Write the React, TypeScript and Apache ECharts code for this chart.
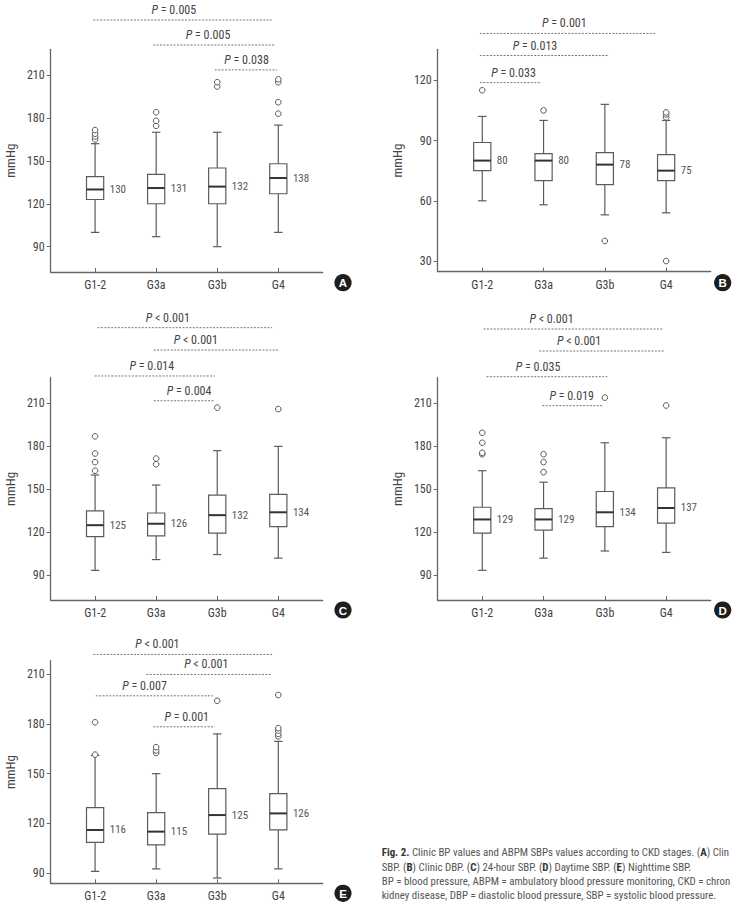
import React, { useEffect, useRef } from 'react';
import * as echarts from 'echarts';

const categories = ['G1-2', 'G3a', 'G3b', 'G4'];
const sbpTicks = [90, 120, 150, 180, 210];
const dbpTicks = [30, 60, 90, 120];

// each box: [lower whisker, Q1, median, Q3, upper whisker]
const clinicSbpBoxes = [
  [100, 123, 130, 139, 162],
  [97, 120, 131, 140.5, 170],
  [90, 120, 132, 145, 170],
  [100, 127, 138, 148, 175],
];
const clinicSbpOutliers = [[165, 167, 169, 171.5], [174.5, 178, 184], [202, 205], [183, 191, 205, 207]];
// comparisons: [from (category units), to, level (mmHg), label position, operator, p]
const clinicSbpTests: [number, number, number, number, string, string][] = [
  [0.97, 3.89, 248.5, 2.29, '=', '0.005'],
  [1.95, 3.94, 231, 2.85, '=', '0.005'],
  [2.96, 3.98, 213.6, 3.48, '=', '0.038'],
];

const clinicDbpBoxes = [
  [60, 75, 80, 89, 102],
  [58, 70, 80, 83.5, 100],
  [53, 68, 78, 84, 108],
  [54, 70, 75, 83, 100],
];
const clinicDbpOutliers = [[115], [105], [40], [30, 101.5, 103, 104]];
const clinicDbpTests: [number, number, number, number, string, string][] = [
  [0.96, 3.82, 143.3, 2.34, '=', '0.001'],
  [0.96, 3.07, 132.3, 1.86, '=', '0.013'],
  [0.96, 1.96, 118.8, 1.51, '=', '0.033'],
];

const sbp24Boxes = [
  [93.5, 117, 125, 135, 160],
  [101, 117.5, 126, 133.5, 153],
  [104.5, 119.5, 132, 146, 177],
  [102, 124, 134, 146.5, 180],
];
const sbp24Outliers = [[163, 169, 175, 187], [167.5, 171.5], [207], [206]];
const sbp24Tests: [number, number, number, number, string, string][] = [
  [1.04, 3.9, 262.8, 2.19, '<', '0.001'],
  [1.96, 4.0, 247.2, 2.65, '<', '0.001'],
  [0.99, 2.96, 229.1, 1.93, '=', '0.014'],
  [1.96, 2.96, 211.8, 2.54, '=', '0.004'],
];

const daySbpBoxes = [
  [93.5, 119.5, 129, 137.5, 163],
  [102, 121.5, 129, 136.5, 155],
  [107, 124, 134, 148.5, 182.5],
  [106, 126.5, 137, 151, 186],
];
const daySbpOutliers = [[174.5, 175.5, 182.5, 189.5], [162, 169, 174.5], [214], [208.5]];
const daySbpTests: [number, number, number, number, string, string][] = [
  [1.02, 3.94, 261.9, 2.13, '<', '0.001'],
  [1.93, 3.97, 246.5, 2.58, '<', '0.001'],
  [1.07, 3.04, 228.6, 1.91, '=', '0.035'],
  [1.98, 2.98, 208.4, 2.46, '=', '0.019'],
];

const nightSbpBoxes = [
  [91, 108.5, 116, 129.5, 161],
  [92.5, 107, 115, 126.5, 150],
  [87, 113.5, 125, 141, 174],
  [92.5, 116, 126, 138, 169.5],
];
const nightSbpOutliers = [[161.5, 181], [162.5, 164, 166], [194], [172.5, 174, 176, 177.5, 197.5]];
const nightSbpTests: [number, number, number, number, string, string][] = [
  [0.97, 3.9, 222, 2.02, '<', '0.001'],
  [1.84, 3.9, 209.9, 2.82, '<', '0.001'],
  [1.01, 2.93, 197, 1.81, '=', '0.007'],
  [1.95, 2.96, 178.3, 2.5, '=', '0.001'],
];

const FONT = '"Liberation Sans Narrow", "Arial Narrow", "Roboto Condensed", "Liberation Sans", sans-serif';
const AXIS = '#666';
const TEXT = '#444';

const panels = [
  { tag: 'A', boxes: clinicSbpBoxes, outliers: clinicSbpOutliers, tests: clinicSbpTests, ticks: sbpTicks, min: 72.3, max: 228, grid: { left: 50.7, top: 49.3, width: 272, height: 222.7 }, badge: [343, 282.7] },
  { tag: 'B', boxes: clinicDbpBoxes, outliers: clinicDbpOutliers, tests: clinicDbpTests, ticks: dbpTicks, min: 24.7, max: 135.4, grid: { left: 437.7, top: 49.3, width: 273, height: 222.4 }, badge: [722.7, 282.7] },
  { tag: 'C', boxes: sbp24Boxes, outliers: sbp24Outliers, tests: sbp24Tests, ticks: sbpTicks, min: 72.8, max: 227.9, grid: { left: 50.7, top: 377.7, width: 272, height: 222.3 }, badge: [343, 610] },
  { tag: 'D', boxes: daySbpBoxes, outliers: daySbpOutliers, tests: daySbpTests, ticks: sbpTicks, min: 72.8, max: 227.9, grid: { left: 437.7, top: 377.7, width: 273, height: 222.3 }, badge: [722.7, 610] },
  { tag: 'E', boxes: nightSbpBoxes, outliers: nightSbpOutliers, tests: nightSbpTests, ticks: sbpTicks, min: 83.8, max: 218.2, grid: { left: 50.7, top: 660.7, width: 272, height: 222.6 }, badge: [343, 893.3] },
];

// caption lines as visible in the reference (cut at the page edge there)
const captionLines = [
  '{b|Fig. 2.} Clinic BP values and ABPM SBPs values according to CKD stages. ({b|A}) Clin',
  'SBP. ({b|B}) Clinic DBP. ({b|C}) 24-hour SBP. ({b|D}) Daytime SBP. ({b|E}) Nighttime SBP.',
  'BP = blood pressure, ABPM = ambulatory blood pressure monitoring, CKD = chron',
  'kidney disease, DBP = diastolic blood pressure, SBP = systolic blood pressure.',
];

function buildOption() {
  const grid: any[] = [];
  const xAxis: any[] = [];
  const yAxis: any[] = [];
  const series: any[] = [];
  const graphic: any[] = [];
  const catPos = categories.map((_, i) => i + 1);

  panels.forEach((p, k) => {
    grid.push({ ...p.grid, containLabel: false });
    xAxis.push({
      type: 'value', gridIndex: k, min: 0.273, max: 4.727,
      axisLine: { show: true, lineStyle: { color: AXIS, width: 1.3 } },
      axisTick: { show: true, inside: true, length: 4, customValues: catPos, lineStyle: { color: AXIS } },
      axisLabel: { customValues: catPos, formatter: (v: number) => categories[Math.round(v) - 1] || '', color: TEXT, fontSize: 12, fontFamily: FONT, margin: 7 },
      splitLine: { show: false },
    });
    yAxis.push({
      type: 'value', gridIndex: k, min: p.min, max: p.max,
      name: 'mmHg', nameLocation: 'middle', nameRotate: 90, nameGap: 34,
      nameTextStyle: { color: TEXT, fontSize: 13, fontFamily: FONT },
      axisLine: { show: true, lineStyle: { color: AXIS, width: 1.3 } },
      axisTick: { show: true, inside: false, length: 4, customValues: p.ticks, lineStyle: { color: AXIS } },
      axisLabel: { customValues: p.ticks, color: TEXT, fontSize: 12, fontFamily: FONT, margin: 6 },
      splitLine: { show: false },
    });

    series.push({
      type: 'custom', xAxisIndex: k, yAxisIndex: k, clip: false, silent: true,
      encode: { x: 0, y: [1, 2, 3, 4, 5] },
      data: p.boxes.map((b, i) => [i + 1, ...b]),
      renderItem: (_params: any, api: any) => {
        const x = api.value(0);
        const lo = api.coord([x, api.value(1)]);
        const q1 = api.coord([x, api.value(2)]);
        const md = api.coord([x, api.value(3)]);
        const q3 = api.coord([x, api.value(4)]);
        const hi = api.coord([x, api.value(5)]);
        const cx = lo[0];
        const hw = 8.6;
        const cw = 4.2;
        const ls = { stroke: '#5c5c5c', lineWidth: 1.2 };
        return {
          type: 'group',
          children: [
            { type: 'line', shape: { x1: cx, y1: hi[1], x2: cx, y2: q3[1] }, style: ls },
            { type: 'line', shape: { x1: cx, y1: q1[1], x2: cx, y2: lo[1] }, style: ls },
            { type: 'line', shape: { x1: cx - cw, y1: hi[1], x2: cx + cw, y2: hi[1] }, style: ls },
            { type: 'line', shape: { x1: cx - cw, y1: lo[1], x2: cx + cw, y2: lo[1] }, style: ls },
            { type: 'rect', shape: { x: cx - hw, y: q3[1], width: hw * 2, height: q1[1] - q3[1] }, style: { fill: '#fff', ...ls } },
            { type: 'line', shape: { x1: cx - hw, y1: md[1], x2: cx + hw, y2: md[1] }, style: { stroke: '#333', lineWidth: 2 } },
            { type: 'text', x: cx + hw + 6, y: md[1], style: { text: String(api.value(3)), fill: '#555', fontSize: 11, fontFamily: FONT, align: 'left', verticalAlign: 'middle' } },
          ],
        };
      },
    });

    const pts: number[][] = [];
    p.outliers.forEach((arr, i) => arr.forEach((v) => pts.push([i + 1, v])));
    series.push({
      type: 'scatter', xAxisIndex: k, yAxisIndex: k, silent: true, clip: false,
      symbol: 'circle', symbolSize: 5.6, data: pts,
      itemStyle: { color: '#fff', borderColor: '#555', borderWidth: 1, opacity: 1 },
      z: 3,
    });

    series.push({
      type: 'custom', xAxisIndex: k, yAxisIndex: k, clip: false, silent: true,
      encode: { x: [0, 1, 3], y: 2 },
      data: p.tests.map((t, i) => [t[0], t[1], t[2], t[3], i]),
      renderItem: (_params: any, api: any) => {
        const a = api.coord([api.value(0), api.value(2)]);
        const b = api.coord([api.value(1), api.value(2)]);
        const l = api.coord([api.value(3), api.value(2)]);
        const t = p.tests[api.value(4)];
        return {
          type: 'group',
          children: [
            { type: 'line', shape: { x1: a[0], y1: a[1], x2: b[0], y2: b[1] }, style: { stroke: '#777', lineWidth: 1, lineDash: [2, 1.4] } },
            {
              type: 'text', x: l[0], y: a[1] - 4,
              style: {
                text: `{i|P}{n| ${t[4]} ${t[5]}}`, align: 'center', verticalAlign: 'bottom',
                rich: {
                  i: { fontStyle: 'italic', fontSize: 12, fontFamily: FONT, fill: TEXT },
                  n: { fontSize: 12, fontFamily: FONT, fill: TEXT },
                },
              },
            },
          ],
        };
      },
    });

    graphic.push({ type: 'circle', shape: { cx: p.badge[0], cy: p.badge[1], r: 8.6 }, style: { fill: '#1e1e1e' } });
    graphic.push({ type: 'text', x: p.badge[0], y: p.badge[1] + 0.5, style: { text: p.tag, fill: '#fff', fontSize: 11.5, fontWeight: 'bold', fontFamily: '"Liberation Sans", sans-serif', align: 'center', verticalAlign: 'middle' } });
  });

  captionLines.forEach((line, i) => {
    graphic.push({
      type: 'text', x: 381.7, y: 852.7 + i * 14.4,
      style: {
        text: line, verticalAlign: 'middle', align: 'left',
        fill: '#555', fontSize: 10.9, fontFamily: FONT,
        rich: { b: { fontWeight: 'bold', fill: '#333', fontSize: 10.9, fontFamily: FONT } },
      },
    });
  });

  return { animation: false, backgroundColor: '#fff', grid, xAxis, yAxis, series, graphic };
}

export default function App() {
  const ref = useRef<HTMLDivElement>(null);
  useEffect(() => {
    if (!ref.current) return;
    const chart = echarts.init(ref.current, undefined, { renderer: 'svg' });
    chart.setOption(buildOption() as any);
    return () => chart.dispose();
  }, []);
  return <div ref={ref} style={{ position: 'absolute', left: 0, top: 0, width: 735, height: 917 }} />;
}
